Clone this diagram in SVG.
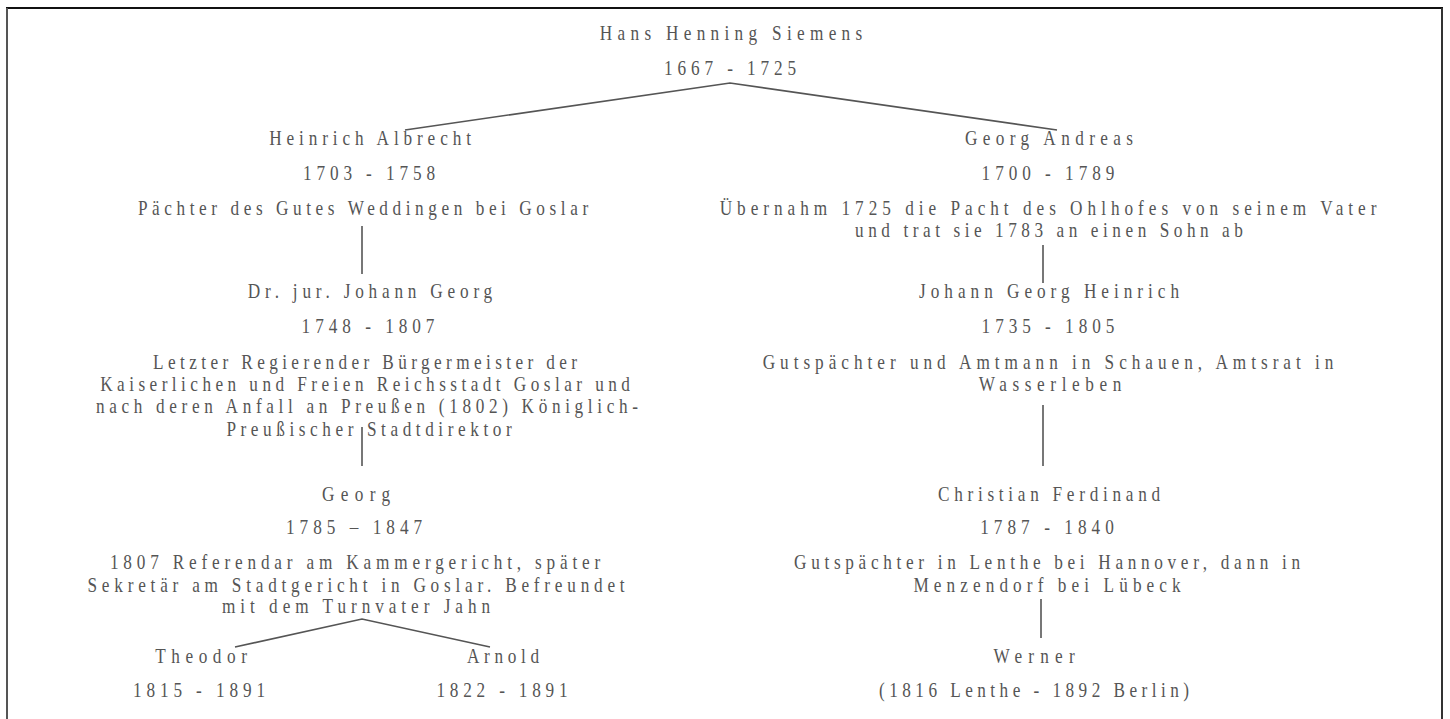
<svg xmlns="http://www.w3.org/2000/svg" width="1450" height="719" viewBox="0 0 1450 719">
<style>
text{font-family:"Liberation Serif","Times New Roman",serif;font-size:21px;fill:#555;text-anchor:middle;transform:scaleX(0.82);transform-box:fill-box;transform-origin:center}
.c{stroke:#555;stroke-width:1.6;fill:none}
</style>
<rect width="1450" height="719" fill="#fff"/>
<g id="frame">
<line x1="6" y1="8" x2="1443" y2="8" stroke="#111" stroke-width="2"/>
<line x1="7" y1="8" x2="7" y2="719" stroke="#555" stroke-width="2"/>
<line x1="1442" y1="8" x2="1442" y2="719" stroke="#333" stroke-width="2"/>
</g>
<g id="connectors">
<polyline class="c" points="405,130 730,83 1057,130"/>
<line class="c" x1="362" y1="226" x2="362" y2="274"/>
<line class="c" x1="1043" y1="245" x2="1043" y2="283"/>
<line class="c" x1="362" y1="427" x2="362" y2="466"/>
<line class="c" x1="1043" y1="405" x2="1043" y2="466"/>
<polyline class="c" points="235,647 362,619 490,647"/>
<line class="c" x1="1041" y1="599" x2="1041" y2="638"/>
</g>
<g id="hans">
<text x="731" y="40" textLength="320" lengthAdjust="spacing">Hans Henning Siemens</text>
<text x="730" y="75" textLength="161" lengthAdjust="spacing">1667 - 1725</text>
</g>
<g id="heinrich-albrecht">
<text x="370" y="145" textLength="246" lengthAdjust="spacing">Heinrich Albrecht</text>
<text x="369" y="180" textLength="161" lengthAdjust="spacing">1703 - 1758</text>
<text x="363" y="215" textLength="549" lengthAdjust="spacing">Pächter des Gutes Weddingen bei Goslar</text>
</g>
<g id="georg-andreas">
<text x="1049" y="145" textLength="205" lengthAdjust="spacing">Georg Andreas</text>
<text x="1048" y="180" textLength="162" lengthAdjust="spacing">1700 - 1789</text>
<text x="1048" y="215" textLength="801" lengthAdjust="spacing">Übernahm 1725 die Pacht des Ohlhofes von seinem Vater</text>
<text x="1049" y="237" textLength="473" lengthAdjust="spacing">und trat sie 1783 an einen Sohn ab</text>
</g>
<g id="johann-georg">
<text x="370" y="298" textLength="298" lengthAdjust="spacing">Dr. jur. Johann Georg</text>
<text x="368" y="333" textLength="162" lengthAdjust="spacing">1748 - 1807</text>
<text x="365" y="369" textLength="517" lengthAdjust="spacing">Letzter Regierender Bürgermeister der</text>
<text x="365" y="391" textLength="646" lengthAdjust="spacing">Kaiserlichen und Freien Reichsstadt Goslar und</text>
<text x="367" y="413" textLength="661" lengthAdjust="spacing">nach deren Anfall an Preußen (1802) Königlich-</text>
<text x="369" y="436" textLength="348" lengthAdjust="spacing">Preußischer Stadtdirektor</text>
</g>
<g id="johann-georg-heinrich">
<text x="1049" y="298" textLength="317" lengthAdjust="spacing">Johann Georg Heinrich</text>
<text x="1048" y="333" textLength="162" lengthAdjust="spacing">1735 - 1805</text>
<text x="1048" y="369" textLength="696" lengthAdjust="spacing">Gutspächter und Amtmann in Schauen, Amtsrat in</text>
<text x="1050" y="391" textLength="174" lengthAdjust="spacing">Wasserleben</text>
</g>
<g id="georg">
<text x="356" y="501" textLength="83" lengthAdjust="spacing">Georg</text>
<text x="354" y="534" textLength="166" lengthAdjust="spacing">1785 – 1847</text>
<text x="355" y="569" textLength="598" lengthAdjust="spacing">1807 Referendar am Kammergericht, später</text>
<text x="356" y="592" textLength="655" lengthAdjust="spacing">Sekretär am Stadtgericht in Goslar. Befreundet</text>
<text x="356" y="613" textLength="327" lengthAdjust="spacing">mit dem Turnvater Jahn</text>
</g>
<g id="christian-ferdinand">
<text x="1049" y="501" textLength="271" lengthAdjust="spacing">Christian Ferdinand</text>
<text x="1047" y="534" textLength="163" lengthAdjust="spacing">1787 - 1840</text>
<text x="1047" y="569" textLength="617" lengthAdjust="spacing">Gutspächter in Lenthe bei Hannover, dann in</text>
<text x="1047" y="592" textLength="326" lengthAdjust="spacing">Menzendorf bei Lübeck</text>
</g>
<g id="theodor">
<text x="201" y="663" textLength="112" lengthAdjust="spacing">Theodor</text>
<text x="199" y="697" textLength="161" lengthAdjust="spacing">1815 - 1891</text>
</g>
<g id="arnold">
<text x="503" y="663" textLength="88" lengthAdjust="spacing">Arnold</text>
<text x="502" y="697" textLength="160" lengthAdjust="spacing">1822 - 1891</text>
</g>
<g id="werner">
<text x="1034" y="663" textLength="99" lengthAdjust="spacing">Werner</text>
<text x="1034" y="697" textLength="378" lengthAdjust="spacing">(1816 Lenthe - 1892 Berlin)</text>
</g>
</svg>
